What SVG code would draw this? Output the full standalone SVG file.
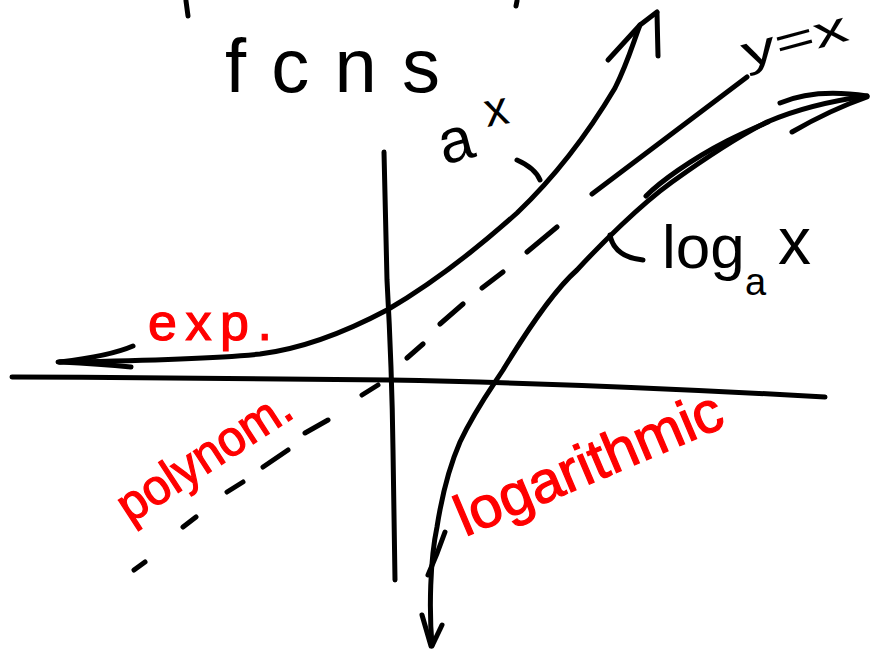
<svg xmlns="http://www.w3.org/2000/svg" width="870" height="650" viewBox="0 0 870 650">
<style>
.ink{fill:none;stroke:#000;stroke-width:5;stroke-linecap:round;stroke-linejoin:round}
.dash{fill:none;stroke:#000;stroke-width:5;stroke-linecap:round}
.lbl{font-family:"Liberation Sans","DejaVu Sans",sans-serif;fill:#000}
.red{font-family:"Liberation Sans","DejaVu Sans",sans-serif;fill:#ff0000;stroke:#ff0000;stroke-width:1.2}
</style>
<rect width="870" height="650" fill="#fff"/>
<g id="top-fragments">
<path class="ink" d="M186,1 L188,16"/>
<path class="ink" d="M517,1 L516,6"/>
</g>
<g id="title"><text class="lbl" x="225" y="92" font-size="76" textLength="215" lengthAdjust="spacing">fcns</text></g>
<g id="axes">
<path class="ink" d="M12,377 C150,377 300,380 390,380 C550,383 700,390 825,397"/>
<path class="ink" d="M384,152 L387,280 Q392,370 393,450 L395,580"/>
</g>
<g id="connectors">
<g id="line-y-eq-x">
<path class="dash" d="M134,570 L145,562 M183,527 L196,517 M227,492 L243,482 M263,467 L288,450 M305,433 L328,420 M362,395 L378,385 M407,358 L423,344 M440,324 L463,304 M482,288 L503,272 M527,252 L557,227 M592,194 L747,77"/>
</g>
<g id="curve-exp">
<path class="ink" d="M58,362 C120,361 200,360 260,354 C300,349 340,335 387,310 C430,285 470,255 517,213 C560,172 590,130 615,88 C628,62 634,40 640,25 L657,12"/>
<path class="ink" d="M133,346 Q110,356 60,362"/>
<path class="ink" d="M131,367 Q100,364 60,362"/>
<path class="ink" d="M608,60 L640,25"/>
<path class="ink" d="M657,13 L658,56"/>
<path class="ink" d="M517,160 Q535,168 540,180"/>
</g>
<g id="curve-log">
<path class="ink" d="M432,645 C429,610 430,560 437,527 C442,495 450,465 460,442 C475,410 490,390 503,370 C520,342 552,292 577,270 C600,245 640,205 672,182 C700,162 735,138 767,122 C795,110 830,101 867,96"/>
<path class="ink" stroke-width="6" d="M646,196 C660,182 690,160 727,141 C745,132 757,127 768,122"/>
<path class="ink" d="M428,575 Q437,555 445,532"/>
<path class="ink" d="M422,615 L431,646"/>
<path class="ink" d="M442,625 L432,646"/>
<path class="ink" d="M780,103 Q815,88 867,96"/>
<path class="ink" d="M792,132 Q830,110 867,97"/>
<path class="ink" d="M610,235 Q614,257 643,260"/>
</g>
</g>
<g id="label-ax">
<text class="lbl" x="444" y="165" font-size="62" transform="rotate(-15 444 165)">a</text>
<text class="lbl" x="487" y="127" font-size="48" transform="rotate(-10 487 127)">x</text>
</g>
<g id="label-yx"><text class="lbl" x="746" y="68" font-size="44" textLength="108" lengthAdjust="spacingAndGlyphs" transform="rotate(-15 746 68)">y=x</text></g>
<g id="label-log">
<text class="lbl" x="662" y="268" font-size="62">log</text>
<text class="lbl" x="745" y="295" font-size="38">a</text>
<text class="lbl" x="778" y="264" font-size="66">x</text>
</g>
<g id="label-exp"><text class="red" x="148" y="340" font-size="52" textLength="124" lengthAdjust="spacing">exp.</text></g>
<g id="label-polynom"><text class="red" x="130" y="524" font-size="50" textLength="198" lengthAdjust="spacingAndGlyphs" transform="rotate(-33 130 524)">polynom.</text></g>
<g id="label-logarithmic"><text class="red" x="465" y="537" font-size="58" textLength="285" lengthAdjust="spacingAndGlyphs" transform="rotate(-23 465 537)">logarithmic</text></g>
</svg>
